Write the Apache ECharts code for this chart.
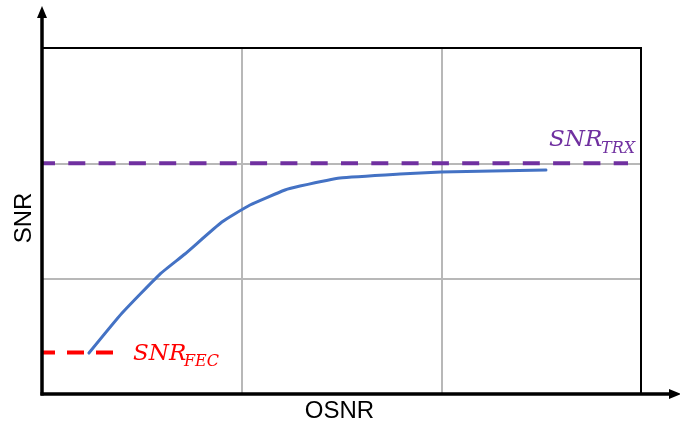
<!DOCTYPE html>
<html><head><meta charset="utf-8">
<script src="https://cdn.jsdelivr.net/npm/echarts@6/dist/echarts.min.js"></script>
<style>html,body{margin:0;padding:0;background:#fff}#c{width:680px;height:423px}</style>
</head><body><div id="c"></div>
<script>
// ---- data ----
const osnr = [0.235, 0.400, 0.591, 0.716, 0.901, 1.042, 1.217, 1.292, 1.492, 1.793, 1.998, 2.524];
const snr  = [0.355, 0.700, 1.040, 1.214, 1.491, 1.639, 1.769, 1.803, 1.873, 1.908, 1.925, 1.942];
const snrTrxLevel = 2.0;
const snrTrxSpan = [0, 2.935];
const snrFecLevel = 0.36;
const snrFecSpan = [0, 0.366];
const axisMin = 0, axisMax = 3, axisStep = 1;
const xTitle = 'OSNR';
const yTitle = 'SNR';
const trxMain = 'SNR', trxSub = 'TRX';
const fecMain = 'SNR', fecSub = 'FEC';

const curve = osnr.map((x, i) => [x, snr[i]]);
const trxLine = snrTrxSpan.map(x => [x, snrTrxLevel]);
const fecLine = snrFecSpan.map(x => [x, snrFecLevel]);

const chart = echarts.init(document.getElementById('c'), null, {renderer: 'canvas'});
const splitStyle = {show: true, lineStyle: {color: '#B8B8B8', width: 2}, showMinLine: false, showMaxLine: false};
const option = {
  animation: false,
  backgroundColor: '#fff',
  grid: {left: 42, right: 39, top: 48, bottom: 29},
  xAxis: {type: 'value', min: axisMin, max: axisMax, interval: axisStep,
    axisLine: {show: false}, axisTick: {show: false}, axisLabel: {show: false}, splitLine: splitStyle},
  yAxis: {type: 'value', min: axisMin, max: axisMax, interval: axisStep,
    axisLine: {show: false}, axisTick: {show: false}, axisLabel: {show: false}, splitLine: splitStyle},
  series: [
    {type: 'line', data: curve, symbol: 'none', smooth: 0.15, z: 3,
      lineStyle: {color: '#4472C4', width: 3, cap: 'round', join: 'round'}},
    {type: 'line', data: trxLine, symbol: 'none', z: 4,
      lineStyle: {color: '#7030A0', width: 4, type: [17, 13.3], dashOffset: 4, cap: 'butt'}},
    {type: 'line', data: fecLine, symbol: 'none', z: 4,
      lineStyle: {color: '#FF0000', width: 4, type: [17, 12], dashOffset: 4, cap: 'butt'}}
  ]
};
chart.setOption(option);

const p0 = chart.convertToPixel({gridIndex: 0}, [axisMin, axisMin]);
const p1 = chart.convertToPixel({gridIndex: 0}, [axisMax, axisMax]);

const mathFont = 'italic 23px "DejaVu Serif", serif';
const subFont = 'italic 16px "DejaVu Serif", serif';
chart.setOption({
  graphic: [
    // border top & right
    {type: 'line', z: 10, shape: {x1: p0[0], y1: p1[1], x2: p1[0] + 1, y2: p1[1]}, style: {stroke: '#000', lineWidth: 2}},
    {type: 'line', z: 10, shape: {x1: p1[0], y1: p1[1], x2: p1[0], y2: p0[1]}, style: {stroke: '#000', lineWidth: 2}},
    // y axis with arrow
    {type: 'line', z: 11, shape: {x1: p0[0], y1: p0[1] + 1.5, x2: p0[0], y2: 16}, style: {stroke: '#000', lineWidth: 3.5}},
    {type: 'polygon', z: 11, shape: {points: [[p0[0] - 5, 18], [p0[0] + 5, 18], [p0[0], 6]]}, style: {fill: '#000'}},
    // x axis with arrow
    {type: 'line', z: 11, shape: {x1: p0[0] - 1.5, y1: p0[1], x2: 670, y2: p0[1]}, style: {stroke: '#000', lineWidth: 3.5}},
    {type: 'polygon', z: 11, shape: {points: [[669, p0[1] - 5], [669, p0[1] + 5], [681, p0[1]]]}, style: {fill: '#000'}},
    // axis titles
    {type: 'text', z: 12, x: (p0[0] + p1[0]) / 2 - 2, y: p0[1] + 17,
      style: {text: xTitle, font: '24px "Liberation Sans", Arial, sans-serif', fill: '#000', align: 'center', verticalAlign: 'middle'}},
    {type: 'text', z: 12, x: 24, y: 218, rotation: Math.PI / 2,
      style: {text: yTitle, font: '24px "Liberation Sans", Arial, sans-serif', fill: '#000', align: 'center', verticalAlign: 'middle'}},
    // SNR_TRX label
    {type: 'text', z: 12, x: 549, y: 140, style: {text: trxMain, font: mathFont, fill: '#7030A0', align: 'left', verticalAlign: 'middle'}},
    {type: 'text', z: 12, x: 601, y: 148.5, style: {text: trxSub, font: subFont, fill: '#7030A0', align: 'left', verticalAlign: 'middle'}},
    // SNR_FEC label
    {type: 'text', z: 12, x: 133, y: 354, style: {text: fecMain, font: mathFont, fill: '#FF0000', align: 'left', verticalAlign: 'middle'}},
    {type: 'text', z: 12, x: 184, y: 361.5, style: {text: fecSub, font: subFont, fill: '#FF0000', align: 'left', verticalAlign: 'middle'}}
  ]
});
</script>
</body></html>
